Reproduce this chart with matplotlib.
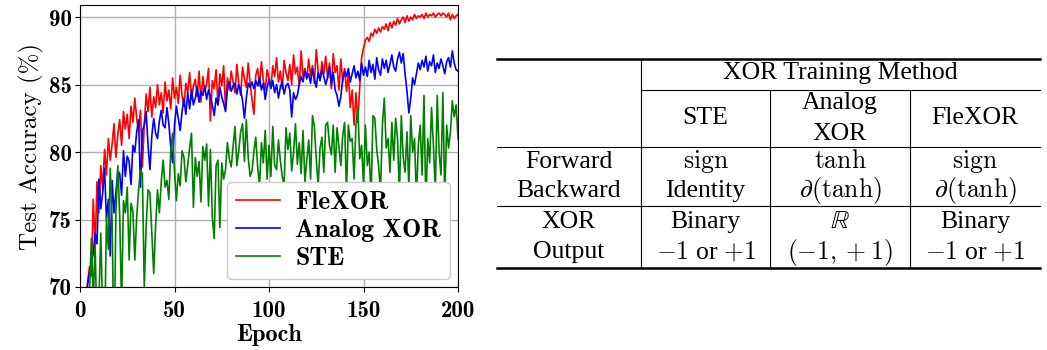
import numpy as np
import matplotlib.pyplot as plt

plt.rcParams['mathtext.fontset'] = 'cm'
plt.rcParams['axes.unicode_minus'] = False

# test accuracy (%) per epoch
epochs = np.arange(1, 201)
flexor = [62.0, 66.0, 68.5, 70.3, 71.5, 70.8, 76.5, 73.0, 77.8, 75.5,
          79.0, 77.2, 80.2, 78.3, 81.0, 79.4, 80.6, 82.1, 79.6, 81.3,
          82.4, 80.5, 83.0, 81.7, 82.8, 81.0, 83.4, 82.2, 84.0, 82.5,
          81.5, 83.1, 78.9, 82.0, 84.3, 83.0, 84.8, 82.6, 84.1, 83.3,
          85.0, 83.5, 84.4, 82.9, 85.2, 83.8, 84.6, 83.2, 85.5, 84.0,
          84.8, 83.6, 85.7, 84.2, 83.4, 85.1, 84.4, 85.9, 83.9, 84.9,
          85.4, 84.1, 86.0, 83.7, 85.6, 84.5, 85.0, 86.2, 82.3, 85.3,
          84.7, 86.1, 83.5, 85.8, 84.9, 86.4, 83.2, 85.5, 84.6, 86.0,
          85.2, 84.4, 86.5, 85.0, 84.2, 86.3, 85.4, 84.8, 86.6, 85.1,
          83.9, 82.8, 85.7, 86.2, 84.9, 86.7, 85.3, 84.6, 86.1, 85.5,
          84.8, 86.4, 85.6, 87.0, 85.2, 86.0, 84.7, 86.8, 85.9, 85.3,
          86.5, 85.0, 87.2, 85.8, 86.3, 84.9, 87.5, 85.6, 86.2, 85.4,
          86.9, 85.7, 86.4, 85.1, 87.6, 86.0, 85.3, 86.7, 85.8, 87.1,
          85.5, 86.6, 84.7, 87.3, 85.9, 86.4, 84.6, 86.9, 85.2, 86.2,
          84.5, 85.8, 83.3, 84.6, 82.0, 84.4, 82.2, 84.8, 87.0, 87.7,
          88.3, 88.5, 88.2, 88.8, 88.6, 89.1, 88.8, 89.2, 88.9, 89.3,
          89.1, 89.5, 89.0, 89.6, 89.2, 89.7, 89.4, 89.9, 89.5, 89.8,
          90.0, 89.6, 90.1, 89.7, 90.0, 89.8, 90.2, 89.9, 90.1, 90.0,
          90.2, 89.9, 90.3, 90.0, 90.2, 90.1, 90.3, 90.0, 90.2, 90.3,
          90.1, 90.3, 90.2, 90.0, 90.3, 89.8, 90.2, 89.9, 90.1, 90.2]
analog = [61.0, 65.0, 68.0, 70.2, 71.0, 71.8, 72.5, 74.0, 73.2, 78.0,
          75.8, 77.0, 78.8, 75.0, 76.5, 72.3, 77.9, 75.5, 77.0, 78.6,
          78.4, 76.8, 80.1, 78.2, 79.7, 79.3, 77.6, 80.5, 80.0, 81.5,
          82.4, 77.4, 81.6, 82.0, 83.0, 80.5, 78.7, 81.2, 82.5, 81.4,
          81.0, 82.3, 83.1, 82.0, 81.8, 83.3, 82.1, 80.4, 79.2, 82.0,
          83.4, 82.5, 81.6, 83.0, 84.0, 82.8, 84.4, 83.2, 84.6, 83.5,
          84.0, 84.8, 83.7, 84.5, 84.2, 84.9, 83.9, 84.6, 84.1, 83.5,
          82.7, 84.0, 83.5, 84.8, 84.1, 83.6, 83.0, 84.7, 85.2, 84.5,
          84.9, 85.1, 84.3, 85.0, 84.6, 83.8, 82.5, 84.0, 85.1, 84.8,
          85.2, 84.7, 85.3, 84.9, 85.5, 84.6, 85.1, 83.9, 84.8, 85.4,
          84.7, 85.3, 84.4, 85.0, 84.0, 84.8, 85.2, 84.3, 84.9, 85.1,
          84.6, 82.6, 84.4, 83.9, 84.2, 85.0, 85.6, 85.2, 86.0, 85.5,
          85.8, 85.1, 86.2, 85.4, 84.8, 85.9, 85.3, 86.1, 85.6, 85.0,
          85.5, 86.3, 85.0, 85.9, 84.6, 84.2, 83.4, 84.1, 85.4, 86.0,
          85.6, 86.2, 85.2, 85.8, 86.4, 85.5, 86.0, 85.3, 86.6, 85.7,
          86.3, 85.6, 86.8, 85.9, 86.5, 85.4, 87.0, 86.1, 85.7, 86.9,
          86.2, 86.8, 85.9, 86.5, 87.2, 86.3, 86.0, 86.9, 87.4, 86.6,
          87.3, 85.8, 84.5, 82.9, 84.0, 85.5, 85.0, 85.8, 86.6, 86.1,
          86.8, 86.3, 87.1, 86.0, 86.7, 86.4, 87.2, 85.9, 86.6, 86.2,
          86.9, 86.4, 85.8, 86.7, 87.0, 86.3, 87.5, 86.6, 86.1, 86.0]
ste = [60.0, 63.0, 66.0, 68.0, 69.5, 73.6, 69.0, 73.2, 66.5, 69.0,
       74.0, 68.0, 66.0, 75.2, 72.8, 78.8, 74.9, 64.5, 75.5, 79.0,
       75.3, 68.5, 76.4, 75.5, 77.4, 72.0, 76.2, 75.6, 72.0, 75.2,
       77.2, 78.7, 78.4, 70.0, 74.5, 77.2, 77.0, 74.0, 71.0, 74.5,
       77.2, 75.5, 77.8, 79.4, 77.4, 77.9, 76.5, 80.0, 81.4, 78.5,
       76.4, 78.4, 77.5, 80.1, 79.6, 77.8, 79.0, 80.3, 81.4, 75.9,
       79.6, 78.2, 79.3, 76.3, 80.4, 79.4, 80.6, 76.0, 80.2, 75.2,
       73.6, 79.0, 79.4, 74.4, 79.2, 78.0, 78.7, 80.7, 79.5, 78.9,
       80.4, 81.9, 79.0, 80.1, 81.5, 82.1, 79.3, 82.4, 79.6, 78.2,
       78.6, 80.0, 81.1, 78.9, 77.5, 80.7, 79.2, 81.6, 78.0, 80.5,
       78.2, 81.9, 79.0, 78.7, 80.9, 79.4, 78.2, 77.6, 81.8, 80.2,
       81.4, 78.6, 80.0, 82.1, 79.1, 80.7, 78.4, 81.6, 77.8, 79.4,
       80.9, 78.0, 82.7, 81.9, 79.5, 77.5, 80.3, 81.1, 78.5, 82.0,
       82.2, 80.5, 79.8, 82.0, 78.5, 81.8, 80.4, 79.0, 81.2, 82.2,
       77.0, 82.0, 80.8, 81.0, 78.0, 82.0, 83.3, 79.5, 80.5, 77.5,
       82.0, 79.0, 80.0, 76.5, 82.7, 82.5, 80.2, 79.0, 77.0, 82.0,
       84.0, 80.3, 81.0, 78.5, 82.2, 79.4, 82.5, 81.0, 76.8, 82.7,
       79.6, 78.5, 81.5, 77.3, 82.7, 80.0, 81.0, 76.5, 80.5, 82.0,
       78.3, 84.2, 76.0, 81.0, 79.2, 83.3, 80.5, 77.0, 84.2, 80.0,
       78.3, 84.4, 76.5, 82.0, 80.3, 81.5, 83.8, 82.6, 83.5, 81.0]

# table contents
col_header = 'XOR Training Method'
col_labels = [['STE'], ['Analog', 'XOR'], ['FleXOR']]
row_labels = [['Forward'], ['Backward'], ['XOR', 'Output']]
cells = [[[r'$\mathrm{sign}$'], [r'$\tanh$'], [r'$\mathrm{sign}$']],
         [['Identity'], [r'$\partial(\tanh)$'], [r'$\partial(\tanh)$']],
         [['Binary', r'$-1$ or $+1$'], [r'$\mathbb{R}$', r'$(-1,+1)$'],
          ['Binary', r'$-1$ or $+1$']]]

fig = plt.figure(figsize=(10.47, 3.5), dpi=100)

# ---- table (drawn in pixel coordinates on a full-figure axes)
tab = fig.add_axes([0, 0, 1, 1])
tab.set_xlim(0, 1047)
tab.set_ylim(350, 0)
tab.axis('off')

xl, xr = 497, 1040
xcols = [641, 770, 910]
yh = [59, 90, 147, 206, 268]
tab.plot([xl, xr], [yh[0], yh[0]], color='black', lw=1.8)
tab.plot([xl, xr], [yh[4], yh[4]], color='black', lw=1.8)
tab.plot([xcols[0], xr], [yh[1], yh[1]], color='black', lw=0.8)
tab.plot([xl, xr], [yh[2], yh[2]], color='black', lw=0.8)
tab.plot([xl, xr], [yh[3], yh[3]], color='black', lw=0.8)
tab.plot([xcols[0], xcols[0]], [yh[0], yh[4]], color='black', lw=0.8)
for xc in xcols[1:]:
    tab.plot([xc, xc], [yh[1], yh[4]], color='black', lw=0.8)

tfont = dict(family='Liberation Serif', size=18.5, ha='center', va='center')
col_x = [(xcols[0] + xcols[1]) / 2, (xcols[1] + xcols[2]) / 2, (xcols[2] + xr) / 2]
lab_x = (xl + xcols[0]) / 2
tab.text((xcols[0] + xr) / 2, 73, col_header, **tfont)


def put(x, y0, y1, lines):
    # stack lines evenly inside the band y0..y1
    n = len(lines)
    step = 30
    mid = (y0 + y1) / 2
    for i, s in enumerate(lines):
        tab.text(x, mid + (i - (n - 1) / 2) * step, s, **tfont)


for j, lines in enumerate(col_labels):
    put(col_x[j], yh[1], yh[2], lines)
row_bands = [(yh[2], yh[2] + 29), (yh[2] + 29, yh[3]), (yh[3], yh[4])]
for i, lines in enumerate(row_labels):
    y0, y1 = row_bands[i]
    put(lab_x, y0, y1, lines)
    for j in range(3):
        put(col_x[j], y0, y1, cells[i][j])

# ---- accuracy curves
ax = fig.add_axes([80 / 1047, 63 / 350, 378 / 1047, 282 / 350])
ax.plot(epochs, flexor, color='red', lw=1.2, label='FleXOR')
ax.plot(epochs, analog, color='blue', lw=1.2, label='Analog XOR')
ax.plot(epochs, ste, color='green', lw=1.2, label='STE')
ax.set_xlim(0, 200)
ax.set_ylim(70, 90.9)
ax.set_xticks([0, 50, 100, 150, 200])
ax.set_yticks([70, 75, 80, 85, 90])
ax.grid(True, color='#b0b0b0', lw=1.0)
ax.set_axisbelow(True)
for lab in ax.get_xticklabels() + ax.get_yticklabels():
    lab.set_fontfamily('cmb10')
    lab.set_fontsize(16.5)
ax.tick_params(axis='y', pad=2.5)
ax.tick_params(axis='x', pad=6)
ax.set_xlabel('Epoch', family='cmb10', fontsize=17.5, labelpad=1)
ax.set_ylabel('Test Accuracy (%)', family='cmr10', fontsize=18, labelpad=3)
ax.legend(loc='lower right', prop={'family': 'cmb10', 'size': 18.5},
          handlelength=1.7, borderpad=0.35, labelspacing=0.2,
          handletextpad=0.6, borderaxespad=0.3, framealpha=1.0)

fig.savefig('out.png', dpi=100)
